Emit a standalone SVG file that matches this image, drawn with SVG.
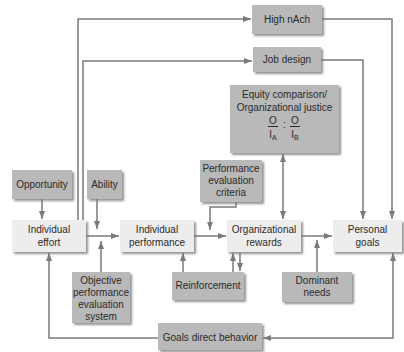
<svg xmlns="http://www.w3.org/2000/svg" width="404" height="352" viewBox="0 0 404 352">
<defs>
<filter id="sh" x="-20%" y="-20%" width="140%" height="150%">
<feDropShadow dx="2" dy="2" stdDeviation="1.2" flood-color="#777" flood-opacity="0.8"/>
</filter>
<marker id="ah" viewBox="0 0 8 6" markerWidth="8" markerHeight="6" refX="8" refY="3" orient="auto-start-reverse" markerUnits="userSpaceOnUse">
<path d="M0,0 L8,3 L0,6 z" fill="#7a7a7a"/>
</marker>
<style>
.dk{fill:#b9b9b9;filter:url(#sh)}
.lt{fill:#ededed;filter:url(#sh)}
text{font-family:"Liberation Sans",Arial,sans-serif;font-size:10px;fill:#2a2a2a;text-anchor:middle}
.c path{fill:none;stroke:#7a7a7a;stroke-width:1.5}
</style>
</defs>
<rect width="404" height="352" fill="#fff"/>
<g class="c" id="connectors">
<path d="M78,220 V19 H251" marker-end="url(#ah)"/>
<path d="M83,220 V61 H252" marker-end="url(#ah)"/>
<path d="M322,19 H392 V219" marker-end="url(#ah)"/>
<path d="M321,60 H363 V219" marker-end="url(#ah)"/>
<path d="M42,199 V219" marker-end="url(#ah)"/>
<path d="M97,199 V229" marker-end="url(#ah)"/>
<path d="M86,236 H119" marker-end="url(#ah)"/>
<path d="M101,272 V241" marker-end="url(#ah)"/>
<path d="M194,236 H226" marker-end="url(#ah)"/>
<path d="M236,202 V207 H210 V230" marker-end="url(#ah)"/>
<path d="M283,154 V219" marker-start="url(#ah)" marker-end="url(#ah)"/>
<path d="M301,236 H332" marker-end="url(#ah)"/>
<path d="M317,272 V240" marker-end="url(#ah)"/>
<path d="M183,272 V253" marker-end="url(#ah)"/>
<path d="M233,272 V253" marker-end="url(#ah)"/>
<path d="M240,253 V271" marker-end="url(#ah)"/>
<path d="M263,338 H393 V253" marker-start="url(#ah)" marker-end="url(#ah)"/>
<path d="M158,338 H49 V253" marker-end="url(#ah)"/>
</g>
<g id="highnach"><rect class="dk" x="252" y="5" width="70" height="29"/><text x="287" y="23">High nAch</text></g>
<g id="jobdesign"><rect class="dk" x="253" y="47" width="68" height="25"/><text x="287" y="63">Job design</text></g>
<g id="equity"><rect class="dk" x="230" y="85" width="109" height="68"/>
<text x="284.5" y="98">Equity comparison/</text>
<text x="284.5" y="111">Organizational justice</text>
<text x="273" y="124">O</text><text x="284.5" y="128">:</text><text x="295" y="124">O</text>
<path d="M268,126.5 H278 M290,126.5 H300" stroke="#2a2a2a" stroke-width="1"/>
<text x="273" y="138">I<tspan font-size="7" dy="2">A</tspan></text>
<text x="295" y="138">I<tspan font-size="7" dy="2">B</tspan></text>
</g>
<g id="opportunity"><rect class="dk" x="12" y="170" width="60" height="29"/><text x="42" y="188">Opportunity</text></g>
<g id="ability"><rect class="dk" x="87" y="170" width="35" height="29"/><text x="104.5" y="188">Ability</text></g>
<g id="effort"><rect class="lt" x="12" y="220" width="74" height="32"/><text x="49" y="233">Individual</text><text x="49" y="246">effort</text></g>
<g id="performance"><rect class="lt" x="120" y="220" width="74" height="32"/><text x="157" y="233">Individual</text><text x="157" y="246">performance</text></g>
<g id="rewards"><rect class="lt" x="227" y="220" width="74" height="32"/><text x="264" y="233">Organizational</text><text x="264" y="246">rewards</text></g>
<g id="personal"><rect class="lt" x="333" y="220" width="69" height="32"/><text x="367.5" y="233">Personal</text><text x="367.5" y="246">goals</text></g>
<g id="criteria"><rect class="dk" x="200" y="160" width="62" height="42"/><text x="231" y="172">Performance</text><text x="231" y="184">evaluation</text><text x="231" y="196">criteria</text></g>
<g id="objective"><rect class="dk" x="72" y="272" width="58" height="51"/><text x="101" y="284">Objective</text><text x="101" y="296">performance</text><text x="101" y="308">evaluation</text><text x="101" y="320">system</text></g>
<g id="reinforcement"><rect class="dk" x="172" y="272" width="72" height="28"/><text x="208" y="289">Reinforcement</text></g>
<g id="dominant"><rect class="dk" x="282" y="272" width="70" height="30"/><text x="317" y="284">Dominant</text><text x="317" y="296">needs</text></g>
<g id="goals"><rect class="dk" x="158" y="323" width="104" height="27"/><text x="210" y="341">Goals direct behavior</text></g>
</svg>
